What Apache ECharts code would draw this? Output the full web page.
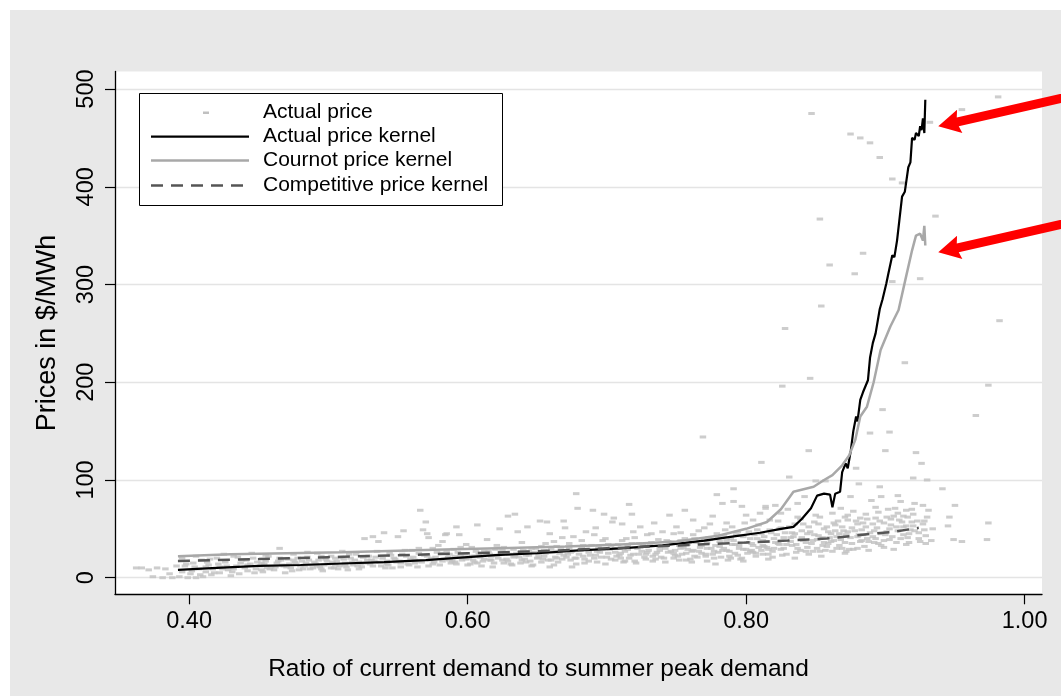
<!DOCTYPE html>
<html><head><meta charset="utf-8">
<script src="https://cdn.jsdelivr.net/npm/echarts@6/dist/echarts.min.js"></script>
<style>
html,body{margin:0;padding:0;background:#fff;}
#bg{position:absolute;left:10px;top:10px;width:1051px;height:686px;background:#e8e8e8;}
#chart{position:absolute;left:0;top:0;width:1061px;height:696px;}
</style></head><body>
<div id="bg"></div><div id="chart"></div>
<script>
const xTicks = [0.40, 0.60, 0.80, 1.00];
const yTicks = [0, 100, 200, 300, 400, 500];
const seriesNames = ['Actual price', 'Actual price kernel', 'Cournot price kernel', 'Competitive price kernel'];

const actualKernel = [[0.392,8],[0.42,10],[0.45,12],[0.48,13],[0.51,14.5],[0.54,16],[0.57,18],[0.59,20],[0.62,23],[0.65,25],[0.68,28],[0.71,30],[0.74,33],[0.77,38],[0.79,42],[0.81,46],[0.825,50],[0.834,52],[0.84,60],[0.8466,71],[0.851,84],[0.856,86],[0.8603,85],[0.862,72],[0.864,86],[0.8675,88],[0.869,108],[0.8715,117],[0.873,112],[0.8752,130],[0.877,150],[0.879,165],[0.880,160],[0.882,182],[0.884,190],[0.8875,202],[0.889,225],[0.891,240],[0.893,250],[0.896,275],[0.898,285],[0.9007,301],[0.902,310],[0.905,330],[0.9065,328],[0.9084,345],[0.910,365],[0.912,390],[0.914,395],[0.9165,420],[0.918,425],[0.9192,450],[0.921,448],[0.922,455],[0.924,452],[0.925,462],[0.926,458],[0.927,470],[0.928,455],[0.9287,489]];

const cournotKernel = [[0.392,22],[0.43,24],[0.47,25],[0.51,26],[0.55,27.5],[0.59,29],[0.63,30.5],[0.67,32],[0.71,34],[0.75,37],[0.78,43],[0.80,50],[0.815,57],[0.825,70],[0.834,88],[0.8485,93],[0.856,100],[0.862,105],[0.869,115],[0.874,125],[0.8784,141],[0.882,165],[0.8868,175],[0.8916,200],[0.8966,233],[0.9036,257],[0.9095,274],[0.9144,305],[0.9192,335],[0.922,350],[0.925,352],[0.927,345],[0.928,360],[0.9287,340]];

const competitiveKernel = [[0.392,17],[0.45,19],[0.50,21],[0.55,23],[0.60,25],[0.65,27],[0.70,30],[0.75,33],[0.80,36],[0.83,38],[0.858,40],[0.882,43.7],[0.906,47],[0.924,51]];

const actualPriceLow = [[0.362,10],[0.366,10],[0.371,8],[0.374,1],[0.377,10],[0.381,0],[0.383,9],[0.386,4],[0.388,0],[0.391,12],[0.393,1],[0.395,6],[0.397,12],[0.399,0],[0.401,4],[0.403,15],[0.405,0],[0.407,9],[0.409,18],[0.410,1],[0.412,6],[0.414,13],[0.416,3],[0.418,5],[0.420,20],[0.422,11],[0.424,9],[0.426,16],[0.428,8],[0.430,2],[0.432,22],[0.434,12],[0.436,4],[0.438,18],[0.440,10],[0.442,7],[0.444,14],[0.446,20],[0.448,9],[0.451,12],[0.453,6],[0.455,17],[0.457,22],[0.459,11],[0.461,8],[0.463,15],[0.465,30],[0.467,13],[0.469,5],[0.471,19],[0.473,10],[0.475,24],[0.477,14],[0.479,8],[0.481,17],[0.483,12],[0.485,21],[0.487,9],[0.488,13],[0.490,16],[0.492,25],[0.494,11],[0.496,7],[0.498,19],[0.500,14],[0.502,22],[0.504,10],[0.506,17],[0.508,12],[0.510,27],[0.512,15],[0.514,8],[0.516,20],[0.518,13],[0.520,24],[0.522,16],[0.524,11],[0.526,40],[0.528,18],[0.530,14],[0.532,42],[0.534,21],[0.536,37],[0.538,12],[0.540,46],[0.542,17],[0.544,25],[0.546,10],[0.548,19],[0.550,42],[0.552,15],[0.554,48],[0.556,22],[0.558,13],[0.560,28],[0.562,18],[0.564,11],[0.566,69],[0.568,49],[0.570,57],[0.571,45],[0.572,41],[0.574,20],[0.576,16],[0.578,26],[0.580,13],[0.582,37],[0.584,44],[0.585,45],[0.586,21],[0.588,15],[0.590,29],[0.592,52],[0.594,44],[0.596,18],[0.598,24],[0.600,13],
[0.395,20],[0.405,22],[0.415,19],[0.425,24],[0.435,21],[0.445,25],[0.455,23],[0.465,20],[0.475,18],[0.485,26],[0.495,22],[0.505,20],[0.515,24],[0.525,21],[0.535,27],[0.545,23],[0.555,28],[0.565,25],[0.575,30],[0.585,27],[0.595,31],[0.402,7],[0.412,11],[0.422,5],[0.432,9],[0.442,13],[0.452,8],[0.462,11],[0.472,14],[0.482,9],[0.492,12],[0.502,10],[0.512,13],[0.522,9],[0.532,12],[0.542,14],[0.552,11],[0.562,15],[0.572,12],[0.582,17],[0.592,14],
[0.398,14],[0.404,11],[0.408,3],[0.413,16],[0.417,9],[0.421,14],[0.427,12],[0.431,6],[0.437,15],[0.441,18],[0.447,5],[0.449,16],[0.454,14],[0.458,9],[0.464,17],[0.468,12],[0.474,7],[0.478,20],[0.484,15],[0.489,10],[0.493,18],[0.497,13],[0.503,16],[0.507,9],[0.511,19],[0.517,16],[0.521,12],[0.527,15],[0.531,18],[0.537,16],[0.541,10],[0.547,20],[0.551,17],[0.557,14],[0.561,21],[0.567,16],[0.569,23],[0.573,18],[0.577,21],[0.579,33],[0.583,19],[0.587,24],[0.589,17],[0.591,22],[0.593,26],[0.597,20],[0.599,34],
[0.452,15],[0.456,10],[0.466,18],[0.470,11],[0.476,16],[0.480,12],[0.486,18],[0.491,14],[0.495,9],[0.499,17],[0.505,13],[0.509,21],[0.513,11],[0.519,18],[0.523,14],[0.529,22],[0.533,17],[0.539,20],[0.543,13],[0.549,16],[0.553,24],[0.559,19],[0.563,17],[0.565,30],[0.571,22],[0.575,14],[0.581,25],[0.587,18],[0.591,16],[0.595,23],[0.599,19]];

const actualPriceHigh = [[0.601,20],[0.603,31],[0.605,16],[0.607,54],[0.608,24],[0.610,12],[0.612,19],[0.614,39],[0.615,27],[0.617,22],[0.619,15],[0.621,33],[0.623,50],[0.625,18],[0.627,25],[0.629,63],[0.631,14],[0.633,21],[0.634,65],[0.636,47],[0.638,15],[0.640,28],[0.642,23],[0.643,52],[0.645,17],[0.647,13],[0.649,30],[0.651,24],[0.652,58],[0.654,19],[0.656,35],[0.657,57],[0.659,11],[0.659,45],[0.661,26],[0.663,21],[0.665,16],[0.667,31],[0.669,58],[0.670,51],[0.672,24],[0.674,18],[0.676,42],[0.678,14],[0.679,71],[0.678,86],[0.681,28],[0.683,22],[0.685,47],[0.687,17],[0.689,33],[0.690,69],[0.692,51],[0.693,16],[0.695,26],[0.697,38],[0.698,65],[0.700,21],[0.702,29],[0.704,57],[0.705,61],[0.706,18],[0.708,34],[0.710,25],[0.711,55],[0.712,16],[0.714,40],[0.716,75],[0.717,23],[0.718,65],[0.719,47],[0.720,17],[0.722,30],[0.724,52],[0.725,27],[0.727,21],[0.729,44],[0.731,35],[0.733,17],[0.734,56],[0.736,26],[0.738,31],[0.740,47],[0.741,20],[0.743,38],[0.745,64],[0.746,27],[0.748,45],[0.748,20],[0.750,52],[0.752,33],[0.754,24],[0.756,40],[0.758,29],[0.760,19],[0.762,44],[0.762,59],[0.764,36],[0.756,69],[0.766,27],[0.768,33],[0.769,144],[0.770,51],[0.771,22],[0.773,41],[0.775,30],[0.776,63],[0.777,20],[0.779,45],[0.779,85],[0.781,37],[0.783,76],[0.783,28],[0.785,49],[0.786,56],[0.787,18],[0.789,40],[0.790,34],[0.791,91],[0.791,78],[0.792,25],[0.794,47],[0.795,30],[0.797,20],[0.797,73],[0.798,42],[0.800,64],[0.801,36],[0.803,27],[0.805,59],[0.805,26],[0.806,44],[0.808,49],[0.809,31],[0.810,66],[0.811,118],[0.812,38],[0.813,32],[0.814,71],[0.814,73],[0.815,37],[0.816,24],[0.817,59],[0.818,46],[0.820,30],[0.821,74],[0.822,44],[0.823,35],[0.825,66],[0.825,51],[0.826,196],[0.828,255],[0.829,34],[0.830,70],[0.831,103],[0.832,41],[0.834,42],[0.835,55],[0.837,76],[0.837,62],[0.839,28],[0.840,48],[0.842,83],[0.843,36],[0.845,130],[0.846,47],[0.846,204],[0.847,475],[0.848,27],[0.850,99],[0.850,64],[0.851,39],[0.852,55],[0.853,367],[0.854,278],[0.855,33],[0.857,99],[0.858,52],[0.858,32],[0.860,320],[0.861,45],[0.862,66],[0.863,38],[0.865,42],[0.866,58],[0.868,71],[0.869,30],[0.870,48],[0.872,27],[0.873,59],[0.873,47],[0.875,83],[0.875,454],[0.876,35],[0.877,68],[0.878,311],[0.879,112],[0.880,55],[0.881,96],[0.882,61],[0.882,37],[0.882,450],[0.884,332],[0.884,44],[0.886,52],[0.887,40],[0.889,445],[0.889,148],[0.890,79],[0.891,42],[0.893,61],[0.894,51],[0.895,35],[0.896,430],[0.896,93],[0.897,83],[0.898,172],[0.899,56],[0.900,130],[0.901,47],[0.902,70],[0.903,149],[0.903,39],[0.905,408],[0.905,303],[0.906,63],[0.908,36],[0.909,84],[0.909,66],[0.910,59],[0.911,78],[0.912,404],[0.913,52],[0.914,220],[0.915,69],[0.916,62],[0.917,45],[0.919,57],[0.920,102],[0.920,65],[0.921,76],[0.922,128],[0.924,40],[0.925,306],[0.926,117],[0.927,74],[0.928,49],[0.929,35],[0.930,100],[0.930,62],[0.931,69],[0.932,466],[0.933,38],[0.934,50],[0.936,370],[0.941,91],[0.945,53],[0.946,62],[0.949,39],[0.950,74],[0.955,37],[0.955,479],[0.965,166],[0.973,39],[0.974,56],[0.974,197],[0.981,492],[0.982,263],
[0.602,14],[0.611,17],[0.618,11],[0.626,15],[0.632,13],[0.639,18],[0.646,12],[0.653,16],[0.662,13],[0.668,19],[0.675,11],[0.684,15],[0.691,20],[0.699,14],[0.707,22],[0.713,17],[0.721,15],[0.728,24],[0.735,19],[0.742,16],[0.749,23],[0.757,18],[0.765,21],[0.772,17],[0.780,26],[0.788,22],[0.796,19],[0.804,28],[0.812,24],[0.819,21],[0.827,30],[0.836,26],[0.844,31],[0.853,27],[0.859,35],[0.867,33],[0.874,29],[0.883,38],[0.892,36],[0.899,31],
[0.605,22],[0.616,24],[0.624,26],[0.635,25],[0.644,27],[0.655,28],[0.664,27],[0.673,30],[0.682,30],[0.694,31],[0.703,33],[0.715,32],[0.723,35],[0.732,36],[0.744,37],[0.753,38],[0.763,40],[0.774,39],[0.784,42],[0.793,44],[0.802,47],[0.811,45],[0.824,50],[0.833,46],[0.841,55],[0.849,57],[0.856,50],[0.864,54],[0.871,62],[0.878,48],[0.886,65],[0.893,72],[0.904,54],[0.913,44],[0.918,49],
[0.604,18],[0.606,27],[0.609,21],[0.613,25],[0.616,18],[0.620,29],[0.622,20],[0.626,31],[0.628,19],[0.630,24],[0.633,29],[0.637,21],[0.639,36],[0.641,19],[0.644,23],[0.648,26],[0.650,20],[0.653,32],[0.655,22],[0.658,18],[0.660,29],[0.662,37],[0.664,20],[0.666,25],[0.668,41],[0.671,21],[0.673,35],[0.675,27],[0.677,20],[0.680,24],[0.682,38],[0.684,19],[0.686,29],[0.688,23],[0.691,44],[0.693,27],[0.696,21],[0.699,40],[0.701,25],[0.703,19],[0.706,30],[0.709,23],[0.711,38],[0.713,27],[0.716,20],[0.718,35],[0.720,41],[0.723,24],[0.726,33],[0.728,19],[0.730,28],[0.732,45],[0.735,24],[0.737,39],[0.739,21],[0.742,30],[0.744,26],[0.747,36],[0.749,28],[0.751,22],[0.753,46],[0.755,31],[0.757,25],[0.759,36],[0.761,27],[0.763,22],[0.766,48],[0.768,25],[0.770,38],[0.772,30],[0.774,55],[0.776,24],[0.778,33],[0.780,41],[0.782,21],[0.784,30],[0.786,38],[0.788,27],[0.790,52],[0.792,34],[0.794,23],[0.796,43],[0.798,29],[0.799,56],[0.801,25],[0.803,40],[0.805,33],[0.807,22],[0.809,54],[0.811,28],[0.813,42],[0.815,31],[0.817,49],[0.819,27],[0.821,36],[0.823,58],[0.825,29],[0.827,41],[0.829,24],[0.831,52],[0.833,33],[0.835,45],[0.837,30],[0.839,60],[0.841,38],[0.843,27],[0.845,52],[0.847,35],[0.849,44],[0.851,30],[0.853,62],[0.855,41],[0.857,28],[0.859,47],[0.861,37],[0.863,56],[0.865,30],[0.867,45],[0.869,52],[0.871,36],[0.873,64],[0.875,41],[0.877,29],[0.879,58],[0.881,44],[0.883,49],[0.885,32],[0.887,60],[0.889,46],[0.891,55],[0.893,40],[0.895,67],[0.897,45],[0.899,38],[0.901,62],[0.903,50],[0.905,42],[0.907,71],[0.909,48],[0.911,40],[0.913,63],[0.915,53],[0.917,36],[0.919,70],[0.921,48],[0.923,58],[0.925,37],[0.927,55],[0.929,43],
[0.752,18],[0.761,16],[0.771,24],[0.778,14],[0.789,20],[0.798,17],[0.807,25],[0.816,19],[0.826,23],[0.835,20],[0.845,24],[0.854,22],[0.862,27],[0.871,25],[0.880,30],[0.888,28],[0.897,33],[0.906,29],[0.915,34],
[0.603,22],[0.607,15],[0.612,27],[0.617,18],[0.621,23],[0.625,28],[0.629,17],[0.634,22],[0.638,26],[0.642,16],[0.646,30],[0.651,21],[0.656,25],[0.660,18],[0.664,32],[0.669,23],[0.674,26],[0.678,20],[0.683,33],[0.687,26],[0.692,23],[0.697,29],[0.701,34],[0.706,26],[0.710,20],[0.715,29],[0.719,24],[0.724,31],[0.729,26],[0.733,22],[0.738,28],[0.743,33],[0.748,25],[0.753,30],[0.758,34],[0.762,28],[0.767,31],[0.772,36],[0.777,27],[0.781,32],[0.786,28],[0.791,38],[0.795,33],[0.800,29],[0.804,35],[0.808,40],[0.812,33],[0.816,29],[0.820,40],[0.824,34],[0.828,46],[0.832,37],[0.836,34],[0.840,41],[0.844,45],[0.848,38],[0.852,43],[0.856,36],[0.860,41],[0.864,48],[0.868,39],[0.872,44],[0.876,51],[0.880,42],[0.884,56],[0.888,37],[0.892,48],[0.896,58],[0.900,44],[0.904,60],[0.908,52],[0.912,57],[0.916,41],[0.920,53],[0.924,46],[0.928,58]];

const arrowTargets = [[0.938,462],[0.938,333]];

const FONT = "'Liberation Sans', Arial, Helvetica, sans-serif";
const chart = echarts.init(document.getElementById('chart'), null, {renderer: 'canvas'});

const legendX = 139.5, legendY = 93.5;
const legendGraphic = [
  {type:'rect', shape:{x:legendX, y:legendY, width:363, height:112}, style:{fill:'#fff', stroke:'#000', lineWidth:1}, z:10},
  {type:'rect', shape:{x:203, y:111.5, width:6, height:2.5}, style:{fill:'#c0c0c0'}, z:11},
  {type:'line', shape:{x1:151, y1:136.7, x2:249, y2:136.7}, style:{stroke:'#000', lineWidth:2.2}, z:11},
  {type:'line', shape:{x1:151, y1:160.5, x2:249, y2:160.5}, style:{stroke:'#a8a8a8', lineWidth:2.5}, z:11},
  {type:'line', shape:{x1:151, y1:185.5, x2:249, y2:185.5}, style:{stroke:'#555', lineWidth:2.5, lineDash:[12,8]}, z:11}
];
[112.7, 136.7, 160.5, 185.5].forEach((y, i) => {
  legendGraphic.push({type:'text', x:263, y:y, style:{text:seriesNames[i], font:'21px ' + FONT, fill:'#000', textVerticalAlign:'middle', textAlign:'left'}, z:11});
});

chart.setOption({
  animation: false,
  backgroundColor: 'transparent',
  grid: {left:115, right:19, top:71.5, bottom:101.7, show:true, backgroundColor:'#fff', borderWidth:0},
  xAxis: {
    type:'value', min:0.3468, max:1.0125,
    name:'Ratio of current demand to summer peak demand', nameLocation:'middle', nameGap:62,
    nameTextStyle:{fontSize:24.5, color:'#000', fontFamily:FONT, padding:[0,80,0,0]},
    axisLine:{show:true, onZero:false, lineStyle:{color:'#000', width:1.3}},
    axisTick:{show:true, inside:false, length:10, lineStyle:{color:'#000', width:1.2}, customValues:xTicks},
    axisLabel:{show:true, margin:15, fontSize:23.5, color:'#000', fontFamily:FONT, customValues:xTicks, formatter:v=>v.toFixed(2)},
    splitLine:{show:false}
  },
  yAxis: {
    type:'value', min:-17, max:518,
    name:'Prices in $/MWh', nameLocation:'middle', nameGap:54, nameRotate:90,
    nameTextStyle:{fontSize:27, color:'#000', fontFamily:FONT},
    axisLine:{show:true, onZero:false, lineStyle:{color:'#000', width:1.3}},
    axisTick:{show:true, inside:false, length:10, lineStyle:{color:'#000', width:1.2}, customValues:yTicks},
    axisLabel:{show:true, rotate:90, margin:16, fontSize:23.5, color:'#000', fontFamily:FONT, customValues:yTicks},
    splitLine:{show:true, lineStyle:{color:'#e4e4e4', width:1.3}}
  },
  series: [
    {name:seriesNames[0], type:'scatter', symbol:'rect', symbolSize:[6.5,3], itemStyle:{color:'#c0c0c0'}, data:actualPriceLow.concat(actualPriceHigh), z:2, silent:true},
    {name:seriesNames[1], type:'line', symbol:'none', lineStyle:{color:'#000', width:2.2}, data:actualKernel, z:3},
    {name:seriesNames[2], type:'line', symbol:'none', lineStyle:{color:'#a8a8a8', width:2.5}, data:cournotKernel, z:4},
    {name:seriesNames[3], type:'line', symbol:'none', lineStyle:{color:'#555', width:2.5, type:[12,8]}, data:competitiveKernel, z:5}
  ],
  graphic: legendGraphic
});

// red annotation arrows anchored to data positions
const ux = 0.975, uy = -0.222, nx = 0.222, ny = 0.975;
function arrowPoints(tip) {
  const p = (a, b) => [tip[0] + ux * a + nx * b, tip[1] + uy * a + ny * b];
  return [p(0,0), p(22,-12), p(20,-4.5), p(170,-4.5), p(170,4.5), p(20,4.5), p(22,12)];
}
const arrows = arrowTargets.map(t => {
  const tip = chart.convertToPixel({gridIndex:0}, t);
  return {type:'polygon', shape:{points:arrowPoints(tip)}, style:{fill:'#ff0000'}, z:20};
});
chart.setOption({graphic: legendGraphic.concat(arrows)});
</script>
</body></html>
